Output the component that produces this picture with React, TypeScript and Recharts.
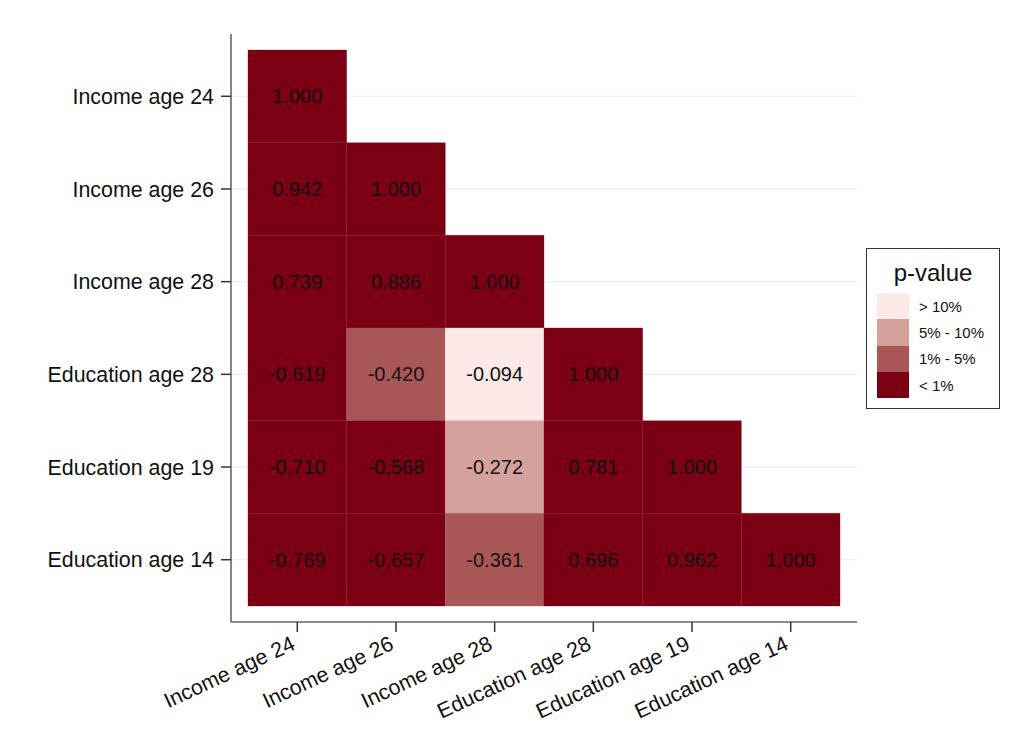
import React from 'react';
import { ScatterChart, Scatter, XAxis, YAxis, CartesianGrid, ReferenceArea } from 'recharts';

const variables = ['Income age 24', 'Income age 26', 'Income age 28', 'Education age 28', 'Education age 19', 'Education age 14'];

// lower-triangular correlation rows (row i has i+1 values)
const corrIncome24 = [1.0];
const corrIncome26 = [0.942, 1.0];
const corrIncome28 = [0.739, 0.886, 1.0];
const corrEducation28 = [-0.619, -0.42, -0.094, 1.0];
const corrEducation19 = [-0.71, -0.568, -0.272, 0.781, 1.0];
const corrEducation14 = [-0.769, -0.657, -0.361, 0.696, 0.962, 1.0];

// p-value class per cell: 0 = < 1%, 1 = 1% - 5%, 2 = 5% - 10%, 3 = > 10%
const pIncome24 = [0];
const pIncome26 = [0, 0];
const pIncome28 = [0, 0, 0];
const pEducation28 = [0, 1, 3, 0];
const pEducation19 = [0, 0, 2, 0, 0];
const pEducation14 = [0, 0, 1, 0, 0, 0];

const pClassLabels = ['< 1%', '1% - 5%', '5% - 10%', '> 10%'];
const pClassColors = ['#7b0013', '#a95656', '#d5a19d', '#fde9e7'];

const corrRows = [corrIncome24, corrIncome26, corrIncome28, corrEducation28, corrEducation19, corrEducation14];
const pRows = [pIncome24, pIncome26, pIncome28, pEducation28, pEducation19, pEducation14];

const cells: { x: number; y: number; v: number; p: number }[] = [];
corrRows.forEach((row, r) => {
  row.forEach((v, c) => {
    cells.push({ x: c, y: r, v, p: pRows[r][c] });
  });
});

const FONT = '"Liberation Sans", Arial, Helvetica, sans-serif';
const idx = [0, 1, 2, 3, 4, 5];
const domain: [number, number] = [-0.672, 5.672];

const XTick = (props: any) => {
  const { x, y, payload } = props;
  return (
    <g transform={`translate(${x},${y})`}>
      <text
        x={0}
        y={0}
        dy={13}
        dx={-7}
        textAnchor="end"
        fontSize={21.4}
        fill="#111"
        fontFamily={FONT}
        transform="rotate(-25)"
      >
        {variables[payload.value]}
      </text>
    </g>
  );
};

const LabelShape = (props: any) => {
  const { cx, cy, payload } = props;
  return (
    <text x={cx} y={cy} textAnchor="middle" dominantBaseline="central" fontSize={20} fill="#111" fontFamily={FONT}>
      {payload.v.toFixed(3)}
    </text>
  );
};

const LegendBox = () => {
  const order = [3, 2, 1, 0];
  return (
    <div
      style={{
        position: 'absolute',
        left: 858,
        top: 240,
        width: 134,
        height: 161,
        border: '1.5px solid #333',
        background: '#fff',
        fontFamily: FONT,
        boxSizing: 'border-box',
      }}
    >
      <div style={{ position: 'absolute', left: 0, width: '100%', top: 10, textAlign: 'center', fontSize: 24, color: '#111', lineHeight: '28px' }}>
        p-value
      </div>
      {order.map((k, i) => (
        <div key={k} style={{ position: 'absolute', left: 10, top: 44 + i * 26.3, height: 26.3, display: 'flex', alignItems: 'center' }}>
          <div style={{ width: 32, height: 26.3, background: pClassColors[k] }} />
          <span style={{ marginLeft: 10, fontSize: 15, color: '#111' }}>{pClassLabels[k]}</span>
        </div>
      ))}
    </div>
  );
};

export default function App() {
  return (
    <div style={{ position: 'relative', width: 1006, height: 735, fontFamily: FONT }}>
      <ScatterChart width={1006} height={735} margin={{ top: 26, right: 157, bottom: 0, left: 0 }}>
        <CartesianGrid horizontal={true} vertical={false} stroke="#eaf1f2" strokeWidth={1.5} horizontalValues={idx} />
        <XAxis
          type="number"
          dataKey="x"
          domain={domain}
          ticks={idx}
          interval={0}
          height={121}
          tick={<XTick />}
          tickSize={10}
          tickMargin={2}
          axisLine={{ stroke: '#666', strokeWidth: 1.6 }}
          tickLine={{ stroke: '#333', strokeWidth: 1.5 }}
          allowDataOverflow
        />
        <YAxis
          type="number"
          dataKey="y"
          domain={domain}
          reversed
          ticks={idx}
          interval={0}
          width={223}
          tickFormatter={(v: number) => variables[v]}
          tick={{ fontSize: 21.4, fill: '#111', fontFamily: FONT }}
          tickSize={10}
          tickMargin={7}
          axisLine={{ stroke: '#666', strokeWidth: 1.6 }}
          tickLine={{ stroke: '#333', strokeWidth: 1.5 }}
          allowDataOverflow
        />
        {cells.map((c) => (
          <ReferenceArea
            key={`${c.x}-${c.y}`}
            x1={c.x - 0.5}
            x2={c.x + 0.5}
            y1={c.y - 0.5}
            y2={c.y + 0.5}
            fill={pClassColors[c.p]}
            fillOpacity={1}
            stroke={pClassColors[c.p]}
            strokeOpacity={0.6}
            strokeWidth={0.5}
            ifOverflow="visible"
          />
        ))}
        <Scatter data={cells} isAnimationActive={false} shape={<LabelShape />} legendType="none" />
      </ScatterChart>
      <LegendBox />
    </div>
  );
}
